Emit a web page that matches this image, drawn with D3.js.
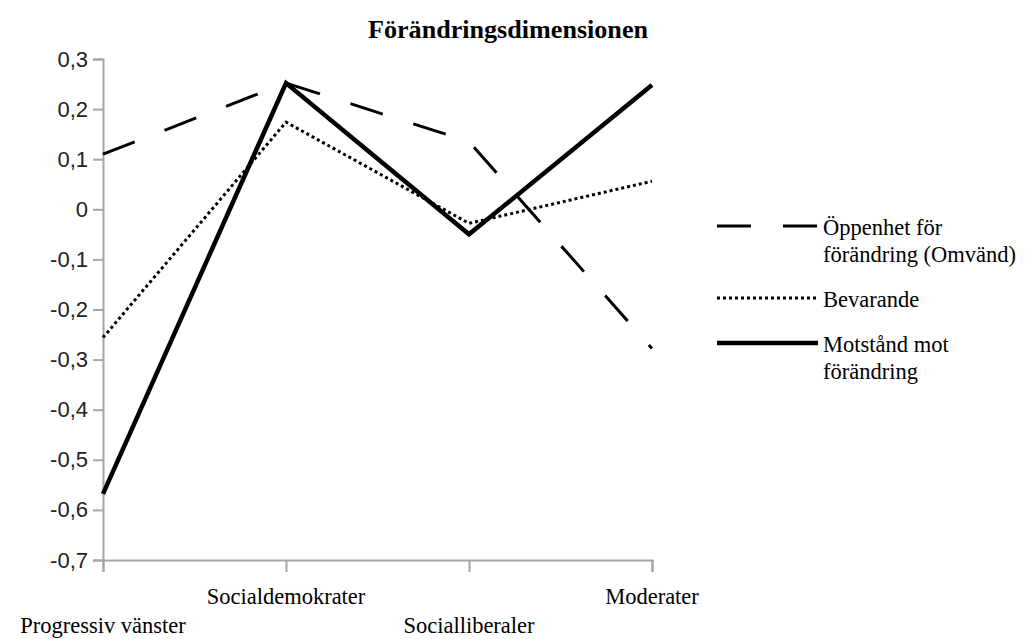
<!DOCTYPE html>
<html>
<head>
<meta charset="utf-8">
<script src="https://cdn.jsdelivr.net/npm/d3@7"></script>
<style>
body{margin:0;background:#fff}
svg{display:block}
</style>
</head>
<body>
<svg width="1026" height="639"></svg>
<script>
// data
const categories=["Progressiv vänster","Socialdemokrater","Socialliberaler","Moderater"]
const oppenhet=[0.11,0.252,0.135,-0.278]
const bevarande=[-0.256,0.174,-0.028,0.056]
const motstand=[-0.568,0.252,-0.05,0.248]
const yTicks=[0.3,0.2,0.1,0,-0.1,-0.2,-0.3,-0.4,-0.5,-0.6,-0.7]
const seriesNames=[["Öppenhet för","förändring (Omvänd)"],["Bevarande"],["Motstånd mot","förändring"]]

const svg=d3.select("svg")
const x=d3.scalePoint(categories,[103,652])
const y=d3.scaleLinear([-0.7,0.3],[560,59])
const loc=d3.formatLocale({decimal:",",thousands:" ",grouping:[3],currency:["","kr"],minus:"-"})
const f1=loc.format(".1f")
const fmt=d=>Math.abs(d)<1e-9?"0":f1(d)

// title
svg.append("text").attr("x",508).attr("y",38)
.attr("text-anchor","middle")
.style("font-family","'Liberation Serif',serif").style("font-weight","bold")
.style("font-size","26px").attr("textLength",280).attr("lengthAdjust","spacingAndGlyphs")
.text("Förändringsdimensionen")

// y axis
const ya=svg.append("g").attr("transform","translate(103,0)")
.call(d3.axisLeft(y).tickValues(yTicks).tickFormat(fmt).tickSize(10).tickPadding(5))
ya.select(".domain").attr("stroke","#a6a6a6").attr("stroke-width",2)
ya.selectAll(".tick line").attr("stroke","#a6a6a6").attr("stroke-width",2)
ya.selectAll(".tick text").style("font-family","'Liberation Sans',Arial,sans-serif")
.style("font-size","22px").attr("fill","#222")

// x axis
const xa=svg.append("g").attr("transform","translate(0,560)")
.call(d3.axisBottom(x).tickSize(12).tickFormat(""))
xa.select(".domain").attr("stroke","#a6a6a6").attr("stroke-width",2)
xa.selectAll(".tick line").attr("stroke","#a6a6a6").attr("stroke-width",2)
svg.append("g").selectAll("text").data(categories).join("text")
.attr("x",d=>x(d)).attr("y",(d,i)=>i%2?604:633)
.attr("text-anchor","middle")
.style("font-family","'Liberation Serif',serif").style("font-size","22.5px")
.text(d=>d)

// lines
const line=d3.line().x((d,i)=>x(categories[i])).y(d=>y(d))
const styles=[
 {data:oppenhet,w:3,dash:"34,32"},
 {data:bevarande,w:3,dash:"3,3"},
 {data:motstand,w:4.5,dash:null}
]
svg.append("g").selectAll("path").data(styles).join("path")
.attr("d",d=>line(d.data)).attr("fill","none").attr("stroke","#000")
.attr("stroke-width",d=>d.w).attr("stroke-dasharray",d=>d.dash)
.attr("stroke-linejoin","miter")

// legend
const legY=[226,298,343]
const lg=svg.append("g").selectAll("g").data(styles).join("g")
.attr("transform",(d,i)=>`translate(0,${legY[i]})`)
lg.append("line").attr("x1",717).attr("x2",818).attr("y1",0).attr("y2",0)
.attr("stroke","#000").attr("stroke-width",d=>d.w).attr("stroke-dasharray",d=>d.dash)
lg.append("text").attr("x",823).attr("y",9)
.style("font-family","'Liberation Serif',serif").style("font-size","22.5px")
.selectAll("tspan").data((d,i)=>seriesNames[i]).join("tspan")
.attr("x",823).attr("dy",(d,i)=>i?27:0).text(d=>d)
</script>
</body>
</html>
